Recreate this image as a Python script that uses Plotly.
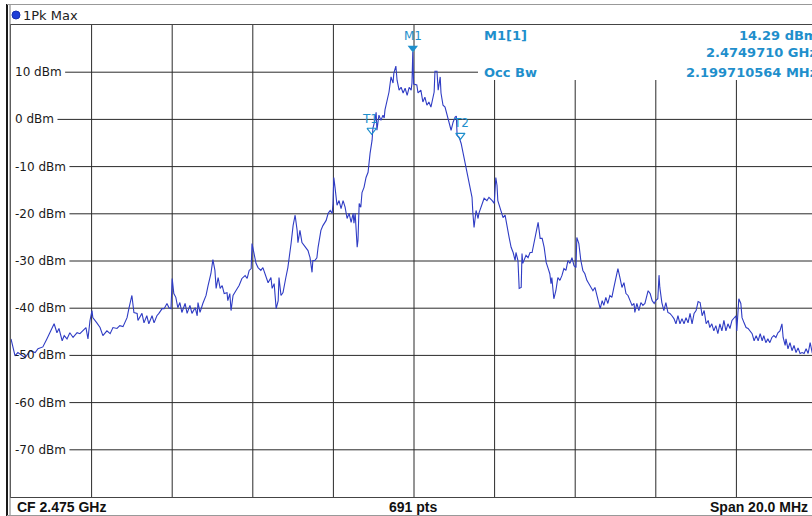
import plotly.graph_objects as go

# ---------------- data ----------------
CF_MHZ = 2475.0
SPAN_MHZ = 20.0
REF_TOP_DBM = 20
REF_BOTTOM_DBM = -80
N_POINTS = 691

# trace: (offset from CF in MHz, level in dBm)
lower_far = [(-10.00, -46.5), (-9.90, -50.1), (-9.83, -49.4), (-9.65, -50.5), (-9.53, -49.0), (-9.40, -49.4),
             (-9.33, -48.6), (-9.21, -48.2), (-9.11, -46.5), (-9.03, -45.2), (-8.93, -43.3), (-8.86, -45.2),
             (-8.81, -44.3), (-8.73, -46.9), (-8.68, -45.8), (-8.61, -46.5), (-8.54, -45.2), (-8.46, -46.2),
             (-8.36, -45.2), (-8.29, -45.4), (-8.21, -44.8), (-8.14, -44.1), (-8.09, -46.5), (-8.04, -42.6),
             (-7.99, -40.5), (-7.97, -42.0), (-7.87, -43.1), (-7.79, -44.1), (-7.72, -45.8), (-7.62, -44.8),
             (-7.54, -45.4), (-7.47, -44.1), (-7.37, -44.3), (-7.30, -43.7), (-7.22, -43.9), (-7.12, -42.0),
             (-7.07, -39.9), (-7.00, -37.3), (-6.95, -40.9), (-6.87, -41.1), (-6.85, -42.6), (-6.75, -41.1),
             (-6.70, -43.1), (-6.63, -41.6), (-6.58, -43.3), (-6.50, -41.6), (-6.45, -43.1), (-6.38, -41.6),
             (-6.33, -41.1), (-6.25, -40.1), (-6.20, -40.1), (-6.13, -39.0), (-6.08, -39.9), (-6.03, -40.1),
             (-6.00, -33.7)]

lower_mid = [(-5.96, -36.9), (-5.91, -37.7), (-5.86, -39.9), (-5.81, -38.8), (-5.76, -40.9), (-5.68, -39.0),
             (-5.63, -41.1), (-5.56, -39.4), (-5.51, -41.1), (-5.43, -39.9), (-5.38, -41.6), (-5.36, -38.8),
             (-5.31, -40.9), (-5.24, -39.0), (-5.16, -37.3), (-5.11, -35.2), (-5.04, -32.7), (-4.99, -29.7),
             (-4.94, -32.0), (-4.91, -35.8), (-4.86, -33.5), (-4.81, -35.8), (-4.76, -35.2), (-4.71, -36.9),
             (-4.64, -36.7), (-4.62, -38.4), (-4.57, -36.9), (-4.54, -40.5), (-4.49, -37.3), (-4.42, -36.3),
             (-4.34, -35.2), (-4.27, -33.7), (-4.19, -33.1), (-4.14, -33.7), (-4.09, -32.0), (-4.04, -31.6),
             (-4.02, -26.3), (-3.97, -28.4), (-3.92, -30.5), (-3.87, -31.4), (-3.80, -32.0), (-3.75, -31.4),
             (-3.67, -33.7), (-3.62, -34.6), (-3.55, -33.5), (-3.52, -35.8), (-3.47, -34.8), (-3.42, -40.1),
             (-3.37, -38.4), (-3.35, -33.5), (-3.30, -37.3), (-3.25, -36.7), (-3.18, -33.5), (-3.13, -31.4),
             (-3.05, -26.3), (-3.00, -22.5), (-2.95, -20.3), (-2.90, -23.5), (-2.88, -26.1), (-2.83, -23.5),
             (-2.78, -26.1), (-2.70, -27.1), (-2.63, -27.8), (-2.58, -29.3), (-2.53, -32.4), (-2.51, -29.9),
             (-2.46, -29.9), (-2.41, -29.3), (-2.38, -27.1), (-2.31, -23.5), (-2.26, -22.5), (-2.18, -21.4),
             (-2.13, -19.9), (-2.08, -19.3), (-2.03, -19.9), (-2.01, -17.8), (-1.99, -12.3)]

main_lobe = [(-1.96, -14.4), (-1.91, -18.2), (-1.86, -17.2), (-1.81, -18.9), (-1.76, -17.2), (-1.71, -18.6),
             (-1.66, -21.0), (-1.61, -19.9), (-1.56, -21.8), (-1.51, -19.9), (-1.49, -22.0), (-1.46, -19.9),
             (-1.41, -27.1), (-1.39, -25.6), (-1.36, -17.8), (-1.32, -18.6), (-1.29, -15.5), (-1.24, -14.4),
             (-1.19, -12.3), (-1.14, -11.2), (-1.09, -7.2), (-1.04, -4.4), (-1.02, -1.9), (-0.97, -0.2),
             (-0.94, 1.5), (-0.92, -2.3), (-0.87, 0.9), (-0.82, -0.2), (-0.77, 0.9), (-0.74, 0.3),
             (-0.72, 2.0), (-0.67, 3.7), (-0.62, 5.8), (-0.57, 9.0), (-0.52, 7.7), (-0.50, 9.8),
             (-0.45, 11.3), (-0.42, 8.3), (-0.37, 6.2), (-0.32, 6.8), (-0.27, 5.6), (-0.22, 6.6),
             (-0.17, 5.1), (-0.12, 6.8), (-0.07, 6.2), (-0.05, 7.7), (-0.03, 14.29), (-0.01, 7.5),
             (0.07, 7.3), (0.10, 5.6), (0.17, 6.2), (0.22, 3.7), (0.27, 4.7), (0.32, 3.0),
             (0.37, 3.7), (0.42, 2.6), (0.47, 4.5), (0.50, 5.8), (0.52, 10.2), (0.57, 10.2),
             (0.60, 6.2), (0.65, 9.0), (0.67, 5.6), (0.72, 3.0), (0.77, 2.6), (0.82, 0.9),
             (0.87, -0.8), (0.92, -2.3), (0.97, -0.6), (1.02, 0.5), (1.05, 0.7), (1.07, -3.4),
             (1.12, -3.8), (1.17, -5.1), (1.22, -7.2), (1.27, -9.3), (1.32, -11.4), (1.34, -12.9),
             (1.39, -14.4), (1.44, -16.5), (1.46, -19.7), (1.49, -22.9), (1.54, -19.3), (1.59, -21.0),
             (1.61, -19.9), (1.69, -17.6), (1.74, -16.7), (1.81, -17.2), (1.86, -16.5), (1.94, -17.2),
             (1.99, -17.8), (2.03, -12.3)]

upper_mid = [(2.06, -14.0), (2.08, -17.2), (2.16, -19.7), (2.21, -20.8), (2.26, -20.3), (2.31, -22.9),
             (2.36, -25.0), (2.41, -27.1), (2.46, -28.2), (2.51, -29.9), (2.53, -28.2), (2.58, -29.9),
             (2.61, -35.8), (2.66, -35.6), (2.68, -28.4), (2.70, -30.5), (2.78, -28.8), (2.83, -29.3),
             (2.88, -28.2), (2.93, -28.2), (2.98, -26.1), (3.03, -23.5), (3.08, -21.8), (3.13, -25.2),
             (3.18, -25.2), (3.23, -27.1), (3.28, -30.3), (3.33, -31.6), (3.37, -32.7), (3.40, -34.8),
             (3.42, -33.5), (3.47, -38.0), (3.52, -36.3), (3.57, -33.5), (3.62, -34.1), (3.67, -33.1),
             (3.72, -31.6), (3.77, -32.0), (3.82, -29.9), (3.87, -30.5), (3.92, -29.3), (3.97, -31.0),
             (4.02, -31.4), (4.04, -25.0), (4.09, -26.3), (4.14, -29.9), (4.19, -32.0), (4.24, -32.7),
             (4.29, -34.1), (4.34, -34.8), (4.39, -35.6), (4.44, -36.3), (4.49, -35.6), (4.54, -37.3),
             (4.59, -39.0), (4.62, -40.1), (4.67, -38.4), (4.71, -39.4), (4.76, -37.7), (4.81, -39.0),
             (4.86, -37.3), (4.91, -37.7), (4.96, -35.6), (5.01, -33.5), (5.06, -31.6), (5.11, -33.5),
             (5.16, -35.6), (5.21, -34.6), (5.26, -36.9), (5.31, -37.3), (5.36, -38.4), (5.41, -39.4),
             (5.46, -39.0), (5.48, -40.9), (5.53, -39.0), (5.58, -40.5), (5.63, -38.8), (5.68, -39.4),
             (5.73, -39.0), (5.78, -37.3), (5.81, -36.3), (5.86, -36.9), (5.91, -38.4), (5.96, -39.0),
             (6.00, -38.4), (6.05, -38.0), (6.08, -33.0)]

upper_far = [(6.10, -35.6), (6.15, -38.8), (6.20, -40.5), (6.25, -38.8), (6.30, -40.9), (6.35, -41.1),
             (6.40, -41.6), (6.45, -42.2), (6.50, -43.3), (6.55, -41.6), (6.60, -43.3), (6.65, -42.2),
             (6.70, -43.3), (6.75, -42.0), (6.80, -43.1), (6.85, -41.1), (6.90, -43.3), (6.95, -41.1),
             (7.00, -40.5), (7.05, -38.6), (7.10, -38.8), (7.15, -41.6), (7.20, -40.5), (7.25, -43.3),
             (7.30, -42.6), (7.34, -44.1), (7.39, -43.3), (7.44, -44.8), (7.49, -43.7), (7.54, -45.4),
             (7.59, -43.3), (7.64, -44.8), (7.69, -42.6), (7.74, -44.8), (7.79, -43.3), (7.84, -44.3),
             (7.89, -42.6), (7.94, -42.0), (7.99, -41.6), (8.01, -44.8), (8.06, -38.0), (8.11, -39.0),
             (8.14, -42.0), (8.19, -43.1), (8.24, -44.1), (8.29, -44.3), (8.34, -44.8), (8.39, -45.4),
             (8.44, -46.9), (8.49, -45.8), (8.54, -46.9), (8.59, -45.4), (8.64, -46.9), (8.68, -45.8),
             (8.73, -47.3), (8.78, -46.5), (8.83, -47.3), (8.88, -46.2), (8.93, -45.8), (8.98, -46.2),
             (9.03, -45.2), (9.08, -44.8), (9.13, -43.3), (9.16, -46.2), (9.21, -47.9), (9.23, -46.5),
             (9.28, -48.6), (9.33, -47.3), (9.38, -49.0), (9.43, -47.9), (9.48, -49.4), (9.53, -48.4),
             (9.58, -49.6), (9.63, -49.4), (9.68, -49.6), (9.73, -48.6), (9.78, -49.6), (9.83, -47.3),
             (9.88, -49.4), (9.95, -49.0), (10.00, -49.6)]

y_tick_values = [10, 0, -10, -20, -30, -40, -50, -60, -70]
y_tick_labels = ["10 dBm", "0 dBm", "-10 dBm", "-20 dBm", "-30 dBm", "-40 dBm", "-50 dBm", "-60 dBm", "-70 dBm"]
x_grid_offsets_mhz = [-8, -6, -4, -2, 0, 2, 4, 6, 8]

M1_FREQ_MHZ = 2474.9710
M1_LEVEL_DBM = 14.29
OCC_BW_MHZ = 2.199710564
T1_OFFSET_MHZ = -1.05
T1_LEVEL_DBM = -2.3
T2_OFFSET_MHZ = 1.15
T2_LEVEL_DBM = -3.4

# ---------------- build ----------------
spectrum = lower_far + lower_mid + main_lobe + upper_mid + upper_far
freq = [CF_MHZ + f for f, _ in spectrum]
level = [v for _, v in spectrum]

W, H = 812, 516
L, R, T, B = 11, 0, 25, 19
PW, PH = W - L - R, H - T - B
px_per_mhz = 40.3
x_lo = CF_MHZ - SPAN_MHZ / 2
x_hi = x_lo + PW / px_per_mhz
db_per_px = (REF_TOP_DBM - REF_BOTTOM_DBM) / PH

def px_x(p):  # pixel -> paper x
    return (p - L) / PW

def px_y(p):  # pixel -> paper y
    return (H - B - p) / PH

MARK = "#1f8fcc"
GRID = "#2a2a2a"
TRACE = "#2f3cc4"
INFO_LEFT_PX = 478
INFO_BOTTOM_DBM = REF_TOP_DBM - (80 - T) * db_per_px
LABEL_LEFT_PX = 15

fig = go.Figure()

fig.add_trace(go.Scatter(x=freq, y=level, mode="lines",
                         line=dict(color=TRACE, width=1.1), hoverinfo="skip", showlegend=False))

# markers
fig.add_trace(go.Scatter(x=[M1_FREQ_MHZ], y=[M1_LEVEL_DBM + 4 * db_per_px], mode="markers",
                         marker=dict(symbol="triangle-down", size=9, color=MARK), showlegend=False,
                         hoverinfo="skip"))
fig.add_trace(go.Scatter(x=[CF_MHZ + T1_OFFSET_MHZ, CF_MHZ + T2_OFFSET_MHZ],
                         y=[T1_LEVEL_DBM, T2_LEVEL_DBM], mode="markers",
                         marker=dict(symbol="triangle-down-open", size=8, color=MARK, line=dict(width=1.2)),
                         showlegend=False, hoverinfo="skip"))

shapes = []
annotations = []

# grid drawn as shapes so it can stop at the labels / marker-info box
for off in x_grid_offsets_mhz:
    xv = CF_MHZ + off
    top = REF_TOP_DBM if (xv < CF_MHZ + (INFO_LEFT_PX - 414) / px_per_mhz) else INFO_BOTTOM_DBM
    shapes.append(dict(type="line", xref="x", yref="y", x0=xv, x1=xv, y0=REF_BOTTOM_DBM, y1=top,
                       line=dict(color=GRID, width=1), layer="below"))

cw = {"0": 7.63, "1": 7.63, "2": 7.63, "3": 7.63, "4": 7.63, "5": 7.63, "6": 7.63, "7": 7.63, "8": 7.63,
      "9": 7.63, "-": 4.33, " ": 3.81, "d": 7.62, "B": 8.23, "m": 11.69}
for v, lab in zip(y_tick_values, y_tick_labels):
    wpx = sum(cw.get(c, 7.5) for c in lab)
    x_end = 1.0 if v < INFO_BOTTOM_DBM else px_x(INFO_LEFT_PX)
    shapes.append(dict(type="line", xref="paper", yref="y", x0=px_x(LABEL_LEFT_PX + wpx + 3.5), x1=x_end,
                       y0=v, y1=v, line=dict(color=GRID, width=1), layer="below"))
    annotations.append(dict(x=px_x(LABEL_LEFT_PX), y=v, xref="paper", yref="y", text=lab, showarrow=False,
                            xanchor="left", yanchor="middle", borderpad=0, borderwidth=0,
                            font=dict(family="DejaVu Sans", size=12, color="#1a1a1a")))

info_font = dict(family="DejaVu Sans", size=13, color=MARK, weight="bold")
annotations += [
    dict(x=M1_FREQ_MHZ, y=px_y(36), xref="x", yref="paper", text="M1", showarrow=False,
         xanchor="center", yanchor="middle", font=dict(family="DejaVu Sans", size=12, color=MARK)),
    dict(x=CF_MHZ + T1_OFFSET_MHZ - 0.05, y=T1_LEVEL_DBM + 11 * db_per_px, xref="x", yref="y", text="T1",
         showarrow=False, xanchor="center", yanchor="middle",
         font=dict(family="DejaVu Sans", size=12, color=MARK)),
    dict(x=CF_MHZ + T2_OFFSET_MHZ + 0.02, y=T2_LEVEL_DBM + 12 * db_per_px, xref="x", yref="y", text="T2",
         showarrow=False, xanchor="center", yanchor="middle",
         font=dict(family="DejaVu Sans", size=12, color=MARK)),
    dict(x=px_x(482), y=px_y(35), xref="paper", yref="paper", text="M1[1]", showarrow=False,
         xanchor="left", yanchor="middle", font=info_font),
    dict(x=px_x(819), y=px_y(35), xref="paper", yref="paper", text=f"{M1_LEVEL_DBM:.2f} dBm",
         showarrow=False, xanchor="right", yanchor="middle", font=info_font),
    dict(x=px_x(819), y=px_y(53), xref="paper", yref="paper", text=f"{M1_FREQ_MHZ/1000:.7f} GHz",
         showarrow=False, xanchor="right", yanchor="middle", font=info_font),
    dict(x=px_x(482), y=10, xref="paper", yref="y", text="Occ Bw", showarrow=False,
         xanchor="left", yanchor="middle", font=info_font),
    dict(x=px_x(819), y=10, xref="paper", yref="y", text=f"{OCC_BW_MHZ:.9f} MHz",
         showarrow=False, xanchor="right", yanchor="middle", font=info_font),
]

# header
annotations.append(dict(x=px_x(21), y=px_y(15), xref="paper", yref="paper", text="1Pk Max",
                        showarrow=False, xanchor="left", yanchor="middle",
                        font=dict(family="DejaVu Sans", size=13, color="#222")))
shapes.append(dict(type="circle", xref="paper", yref="paper", x0=px_x(12), x1=px_x(20),
                   y0=px_y(19), y1=px_y(11), fillcolor="#2040d8", line=dict(color="#1830b0", width=1)))

# footer
foot = dict(family="Liberation Sans", size=14, color="#111", weight="bold")
annotations += [
    dict(x=px_x(15), y=px_y(507), xref="paper", yref="paper", text=f"CF {CF_MHZ/1000:.3f} GHz",
         showarrow=False, xanchor="left", yanchor="middle", font=foot),
    dict(x=px_x(413), y=px_y(507), xref="paper", yref="paper", text=f"{N_POINTS} pts",
         showarrow=False, xanchor="center", yanchor="middle", font=foot),
    dict(x=px_x(810), y=px_y(507), xref="paper", yref="paper", text=f"Span {SPAN_MHZ:.1f} MHz",
         showarrow=False, xanchor="right", yanchor="middle", font=foot),
]

# frame lines
shapes += [
    dict(type="line", xref="paper", yref="paper", x0=px_x(7), x1=px_x(7), y0=px_y(516), y1=px_y(4),
         line=dict(color="#1a1a1a", width=2)),
    dict(type="line", xref="paper", yref="paper", x0=px_x(10), x1=px_x(10), y0=px_y(516), y1=px_y(4),
         line=dict(color="#777", width=1)),
    dict(type="line", xref="paper", yref="paper", x0=px_x(7), x1=1.01, y0=px_y(4.5), y1=px_y(4.5),
         line=dict(color="#999", width=1)),
    dict(type="line", xref="paper", yref="paper", x0=px_x(7), x1=1.01, y0=px_y(515.5), y1=px_y(515.5),
         line=dict(color="#999", width=1)),
]

fig.update_layout(
    width=W, height=H, margin=dict(l=L, r=R, t=T, b=B),
    paper_bgcolor="white", plot_bgcolor="white",
    shapes=shapes, annotations=annotations, showlegend=False,
    xaxis=dict(range=[x_lo, x_hi], showticklabels=False, ticks="", showgrid=False, zeroline=False,
               showline=True, linecolor="#444", linewidth=1, mirror=True),
    yaxis=dict(range=[REF_BOTTOM_DBM, REF_TOP_DBM], showticklabels=False, ticks="", showgrid=False,
               zeroline=False, showline=True, linecolor="#444", linewidth=1),
)

fig.write_html("out.html", config={"displayModeBar": False},
               post_script="document.body.style.margin='0';document.body.style.overflow='hidden';")
